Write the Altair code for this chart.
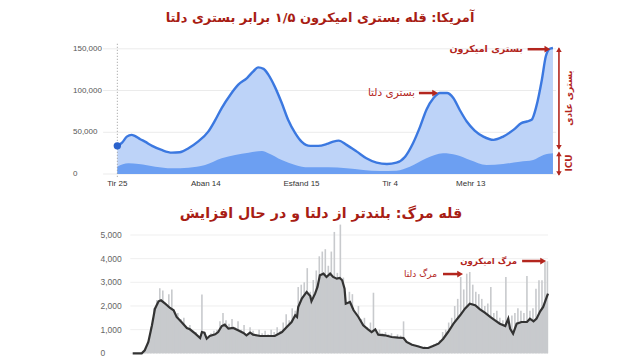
import altair as alt
import pandas as pd

# ---------------- values ----------------
# top chart: US patients in hospital (all) and in ICU, x = days since Tir 25
top_day = [0, 6, 12, 18, 22, 29, 35, 44, 56, 69, 79, 90, 102, 115, 124, 132, 143, 153, 164, 172,
           178, 185, 191, 199, 208, 216, 225, 233, 244, 254, 265, 273, 280, 290, 303, 315, 328, 341, 353, 364,
           374, 383, 391, 400, 408, 417, 425, 433, 442, 452, 463, 476, 488, 501, 511, 518, 524, 530, 537, 542,
           547, 551]
top_total = [33700, 37600, 44800, 46900, 45700, 41700, 38800, 33700, 28800, 25600, 26000, 30900, 38800, 50800,
             64900, 79000, 95000, 107000, 115000, 123000, 127800, 126000, 119000, 105000, 85000, 65000, 49000,
             38800, 33700, 33700, 36000, 38800, 40000, 34900, 26800, 18900, 13600, 12000, 13600, 20800, 36900,
             56800, 77000, 91000, 97000, 97000, 91000, 77000, 62900, 52000, 44800, 40900, 44800, 52900, 60900,
             62900, 64900, 81000, 113000, 141000, 150000, 151000]
icu_day = [0, 14, 27, 48, 69, 90, 111, 132, 149, 166, 183, 191, 208, 225, 242, 267, 290, 311, 332, 353, 370,
           391, 412, 429, 446, 467, 488, 509, 526, 539, 551]
icu_val = [8800, 12800, 12000, 8800, 6800, 7600, 10800, 18900, 22800, 25600, 27600, 24900, 16800, 10800, 8000,
           8000, 6800, 4800, 3600, 4000, 8800, 18900, 24900, 22800, 16800, 10800, 12000, 14800, 16800, 22800, 24900]
top_y_ticks = [0, 50000, 100000, 150000]
top_x_ticks = [0, 112, 233, 345, 447]
top_x_labels = ["Tir 25", "Aban 14", "Esfand 15", "Tir 4", "Mehr 13"]

# bottom chart: daily deaths (bars) and 7-day average (line), x = days
bar_day = list(range(0, 690, 5)) + [689]
bar_val = [0, 0, 0, 10, 150, 500, 1100, 1900, 2250, 2750,
           2650, 2000, 2500, 2700, 1650, 1700, 1450, 1500, 1000, 1200,
           950, 900, 600, 2480, 900, 500, 850, 950, 1000, 1350,
           1700, 1400, 1250, 1450, 1100, 1350, 1000, 1200, 800, 1100,
           950, 800, 1000, 850, 950, 800, 1000, 900, 1100, 950,
           1300, 1650, 1400, 1900, 1800, 2800, 2900, 3000, 3600, 2600,
           3100, 3500, 4100, 4300, 4400, 3700, 4300, 5130, 3400, 5440,
           3200, 2100, 2600, 2500, 1600, 2000, 1450, 1500, 1100, 1300,
           2560, 900, 1000, 850, 900, 800, 850, 700, 800, 750,
           1350, 500, 450, 400, 350, 330, 260, 300, 250, 320,
           380, 450, 550, 900, 1000, 1300, 1500, 2000, 2300, 3226,
           2700, 3366, 3437, 2900, 2600, 2500, 2300, 2000, 2100, 2800,
           1700, 1800, 1500, 1400, 3226, 1300, 1600, 1700, 1900, 1800,
           1700, 3268, 1800, 1900, 2731, 3087, 3087, 3873, 3890]
avg_day = [0, 15, 20, 26, 32, 37, 43, 47, 54, 62, 68, 73, 81, 90, 95, 104, 112, 115, 119, 123,
           128, 137, 142, 148, 153, 159, 167, 175, 184, 189, 195, 200, 212, 228, 236, 248, 256, 264, 270, 273,
           275, 281, 289, 295, 297, 303, 307, 311, 317, 322, 328, 333, 339, 344, 348, 352, 354, 361, 367, 375,
           383, 391, 397, 403, 408, 419, 430, 441, 450, 455, 464, 472, 483, 491, 499, 508, 516, 524, 533, 544,
           552, 560, 569, 577, 585, 594, 602, 610, 619, 624, 627, 632, 638, 646, 655, 660, 666, 671, 677, 682,
           688, 690]
avg_val = [0, 0, 127, 478, 1184, 1886, 2199, 2241, 2097, 1915, 1818, 1535, 1323, 1070, 1015, 829, 647, 900, 871, 617,
           731, 803, 900, 1154, 1209, 1040, 1070, 972, 858, 761, 871, 786, 731, 731, 731, 900, 1112, 1323, 1607, 1535,
           1958, 2309, 2592, 2423, 2199, 2520, 2803, 3298, 3366, 3226, 3366, 3226, 3154, 3184, 3087, 2731, 2097, 2169,
           1818, 1535, 1184, 1015, 900, 1015, 786, 761, 689, 660, 647, 478, 364, 309, 224, 224, 309, 406, 617, 900,
           1252, 1607, 1886, 2097, 2030, 1860, 1717, 1535, 1395, 1252, 1154, 1463, 1040, 829, 1252, 1323, 1323, 1463,
           1353, 1463, 1776, 1958, 2381, 2520]
bot_y_ticks = [0, 1000, 2000, 3000, 4000, 5000]

title_top = "آمریکا: قله بستری امیکرون ۱/۵ برابر بستری دلتا"
title_bottom = "قله مرگ: بلندتر از دلتا و در حال افزایش"

# ---------------- styling ----------------
RED = "#b3261e"
TITLE_RED = "#a81d14"
FA_FONT = "DejaVu Sans"
LAT_FONT = "Liberation Sans"
BAR_GRAY = "#c8cacd"

XS_TOP = alt.Scale(domain=[-18, 555], range=[95.1, 548.1], nice=False, zero=False)
YS_TOP = alt.Scale(domain=[0, 150000], range=[166, 40.8], nice=False, zero=False)
XS_BOT = alt.Scale(domain=[-4, 690], range=[122.3, 540.0], nice=False, zero=False)
YS_BOT = alt.Scale(domain=[0, 5000], range=[345.3, 227], nice=False, zero=False)


def qx(field, scale):
    return alt.X(field=field, type="quantitative", scale=scale, axis=None)


def qy(field, scale):
    return alt.Y(field=field, type="quantitative", scale=scale, axis=None)


# ---------------- top chart ----------------
top_df = pd.DataFrame({"d": top_day, "v": top_total})
icu_df = pd.DataFrame({"d": icu_day, "v": icu_val})
grid_top_df = pd.DataFrame({"g": top_y_ticks, "a": XS_TOP.domain[0], "b": XS_TOP.domain[1],
                            "lab": [f"{v:,}" for v in top_y_ticks]})
xt_df = pd.DataFrame({"d": top_x_ticks, "lab": top_x_labels})

grid_top = alt.Chart(grid_top_df).mark_rule(color="#ebebeb", strokeWidth=1).encode(
    x=qx("a", XS_TOP), x2="b:Q", y=qy("g", YS_TOP))
ylab_top = alt.Chart(grid_top_df).mark_text(align="left", baseline="middle", font=LAT_FONT, fontSize=8,
                                            color="#555555").encode(
    y=qy("g", YS_TOP), x=alt.value(65), text="lab:N")
xlab_top = alt.Chart(xt_df).mark_text(align="center", baseline="middle", font=LAT_FONT, fontSize=8,
                                      color="#333333").encode(
    x=qx("d", XS_TOP), y=alt.value(176), text="lab:N")
area_total = alt.Chart(top_df).mark_area(color="#bdd3f8", interpolate="monotone").encode(
    x=qx("d", XS_TOP), y=qy("v", YS_TOP))
area_icu = alt.Chart(icu_df).mark_area(color="#6c9ff2", interpolate="monotone").encode(
    x=qx("d", XS_TOP), y=qy("v", YS_TOP))
line_total = alt.Chart(top_df).mark_line(color="#3b78e0", strokeWidth=2.4, interpolate="monotone").encode(
    x=qx("d", XS_TOP), y=qy("v", YS_TOP))
hover_df = pd.DataFrame({"d": [0], "v1": [156000], "v2": [-5000]})
hover_line = alt.Chart(hover_df).mark_rule(color="#9a9a9a", strokeWidth=1, strokeDash=[1, 2]).encode(
    x=qx("d", XS_TOP), y=qy("v1", YS_TOP), y2="v2:Q")
dot = alt.Chart(top_df.head(1)).mark_circle(size=55, color="#2a62cc", opacity=1).encode(
    x=qx("d", XS_TOP), y=qy("v", YS_TOP))

# annotations (top) in data units
t_notes_bold = pd.DataFrame({"t": ["بستری امیکرون"], "d": [513], "v": [149500]})
t_notes_norm = pd.DataFrame({"t": ["بستری دلتا"], "d": [376.5], "v": [97000]})
t_arrows = pd.DataFrame({"d1": [519, 381.5], "d2": [543, 401], "v": [149500, 97000]})
t_heads = pd.DataFrame({"d": [544, 402], "v": [149500, 97000]})

note_top_b = alt.Chart(t_notes_bold).mark_text(align="right", baseline="middle", font=FA_FONT, fontSize=9.5,
                                               fontWeight="bold", color=RED).encode(
    x=qx("d", XS_TOP), y=qy("v", YS_TOP), text="t:N")
note_top_n = alt.Chart(t_notes_norm).mark_text(align="right", baseline="middle", font=FA_FONT, fontSize=10.5,
                                               color=RED).encode(
    x=qx("d", XS_TOP), y=qy("v", YS_TOP), text="t:N")
arrow_top = alt.Chart(t_arrows).mark_rule(color=RED, strokeWidth=2.5).encode(
    x=qx("d1", XS_TOP), x2="d2:Q", y=qy("v", YS_TOP))
head_top = alt.Chart(t_heads).mark_point(shape="triangle-right", filled=True, size=45, color=RED,
                                         opacity=1).encode(x=qx("d", XS_TOP), y=qy("v", YS_TOP))

v_arrows = pd.DataFrame({"d": [558.6, 558.6], "v1": [150500, 25500], "v2": [30500, -800]})
v_heads_up = pd.DataFrame({"d": [558.6, 558.6], "v": [149000, 24000]})
v_heads_dn = pd.DataFrame({"d": [558.6, 558.6], "v": [32000, 600]})
v_text = pd.DataFrame({"t": ["بستری عادی", "ICU"], "d": [571, 571], "v": [91000, 13200]})

arrow_v = alt.Chart(v_arrows).mark_rule(color=RED, strokeWidth=1.6).encode(
    x=qx("d", XS_TOP), y=qy("v1", YS_TOP), y2="v2:Q")
head_up = alt.Chart(v_heads_up).mark_point(shape="triangle-up", filled=True, size=30, color=RED,
                                           opacity=1).encode(x=qx("d", XS_TOP), y=qy("v", YS_TOP))
head_dn = alt.Chart(v_heads_dn).mark_point(shape="triangle-down", filled=True, size=30, color=RED,
                                           opacity=1).encode(x=qx("d", XS_TOP), y=qy("v", YS_TOP))
v_label = alt.Chart(v_text).mark_text(angle=270, align="center", baseline="middle", font=FA_FONT,
                                      fontSize=9, fontWeight="bold", color=RED).encode(
    x=qx("d", XS_TOP), y=qy("v", YS_TOP), text="t:N")

top = alt.layer(grid_top, ylab_top, xlab_top, area_total, area_icu, line_total, hover_line, dot,
                note_top_b, note_top_n, arrow_top, head_top, arrow_v, head_up, head_dn, v_label)

# ---------------- bottom chart ----------------
bar_df = pd.DataFrame({"d": bar_day, "v": bar_val})
avg_df = pd.DataFrame({"d": avg_day, "v": avg_val})
grid_bot_df = pd.DataFrame({"g": bot_y_ticks, "a": XS_BOT.domain[0], "b": XS_BOT.domain[1],
                            "lab": [f"{v:,}" for v in bot_y_ticks]})

grid_bot = alt.Chart(grid_bot_df).mark_rule(color="#efefef", strokeWidth=1).encode(
    x=qx("a", XS_BOT), x2="b:Q", y=qy("g", YS_BOT))
ylab_bot = alt.Chart(grid_bot_df).mark_text(align="left", baseline="middle", font=LAT_FONT, fontSize=8.5,
                                            color="#666666").encode(
    y=qy("g", YS_BOT), x=alt.value(92.5), text="lab:N")
bars = alt.Chart(bar_df).mark_rule(color=BAR_GRAY, strokeWidth=1.6).encode(
    x=qx("d", XS_BOT), y=qy("v", YS_BOT), y2=alt.Y2(datum=0))
bar_body = alt.Chart(avg_df).mark_area(color=BAR_GRAY, opacity=1).encode(
    x=qx("d", XS_BOT), y=qy("v", YS_BOT))
avg_line = alt.Chart(avg_df).mark_line(color="#333333", strokeWidth=2.2).encode(
    x=qx("d", XS_BOT), y=qy("v", YS_BOT))

b_notes_bold = pd.DataFrame({"t": ["مرگ امیکرون"], "d": [638.5], "v": [3900]})
b_notes_norm = pd.DataFrame({"t": ["مرگ دلتا"], "d": [505.6], "v": [3350]})
b_arrows = pd.DataFrame({"d1": [647, 515.5], "d2": [680, 542], "v": [3900, 3350]})
b_heads = pd.DataFrame({"d": [682, 544], "v": [3900, 3350]})

note_bot_b = alt.Chart(b_notes_bold).mark_text(align="right", baseline="middle", font=FA_FONT, fontSize=8.5,
                                               fontWeight="bold", color=RED).encode(
    x=qx("d", XS_BOT), y=qy("v", YS_BOT), text="t:N")
note_bot_n = alt.Chart(b_notes_norm).mark_text(align="right", baseline="middle", font=FA_FONT, fontSize=9,
                                               color=RED).encode(
    x=qx("d", XS_BOT), y=qy("v", YS_BOT), text="t:N")
arrow_bot = alt.Chart(b_arrows).mark_rule(color=RED, strokeWidth=2.5).encode(
    x=qx("d1", XS_BOT), x2="d2:Q", y=qy("v", YS_BOT))
head_bot = alt.Chart(b_heads).mark_point(shape="triangle-right", filled=True, size=45, color=RED,
                                         opacity=1).encode(x=qx("d", XS_BOT), y=qy("v", YS_BOT))

bottom = alt.layer(grid_bot, ylab_bot, bar_body, bars, avg_line, note_bot_b, note_bot_n, arrow_bot, head_bot)

# ---------------- titles ----------------
titles = alt.layer(
    alt.Chart(pd.DataFrame({"t": [title_top]})).mark_text(
        font=FA_FONT, fontSize=13, fontWeight="bold", color=TITLE_RED, align="center", baseline="middle"
    ).encode(text="t:N", x=alt.value(312), y=alt.value(10)),
    alt.Chart(pd.DataFrame({"t": [title_bottom]})).mark_text(
        font=FA_FONT, fontSize=14.2, fontWeight="bold", color=TITLE_RED, align="center", baseline="middle"
    ).encode(text="t:N", x=alt.value(313), y=alt.value(206)),
)

chart = alt.layer(top, bottom, titles).resolve_scale(
    x="independent", y="independent"
).properties(
    width=623, height=353, padding=0, autosize=alt.AutoSizeParams(type="none")
).configure_view(stroke=None)

chart.save("out.html", embed_options={"renderer": "svg", "actions": False})
